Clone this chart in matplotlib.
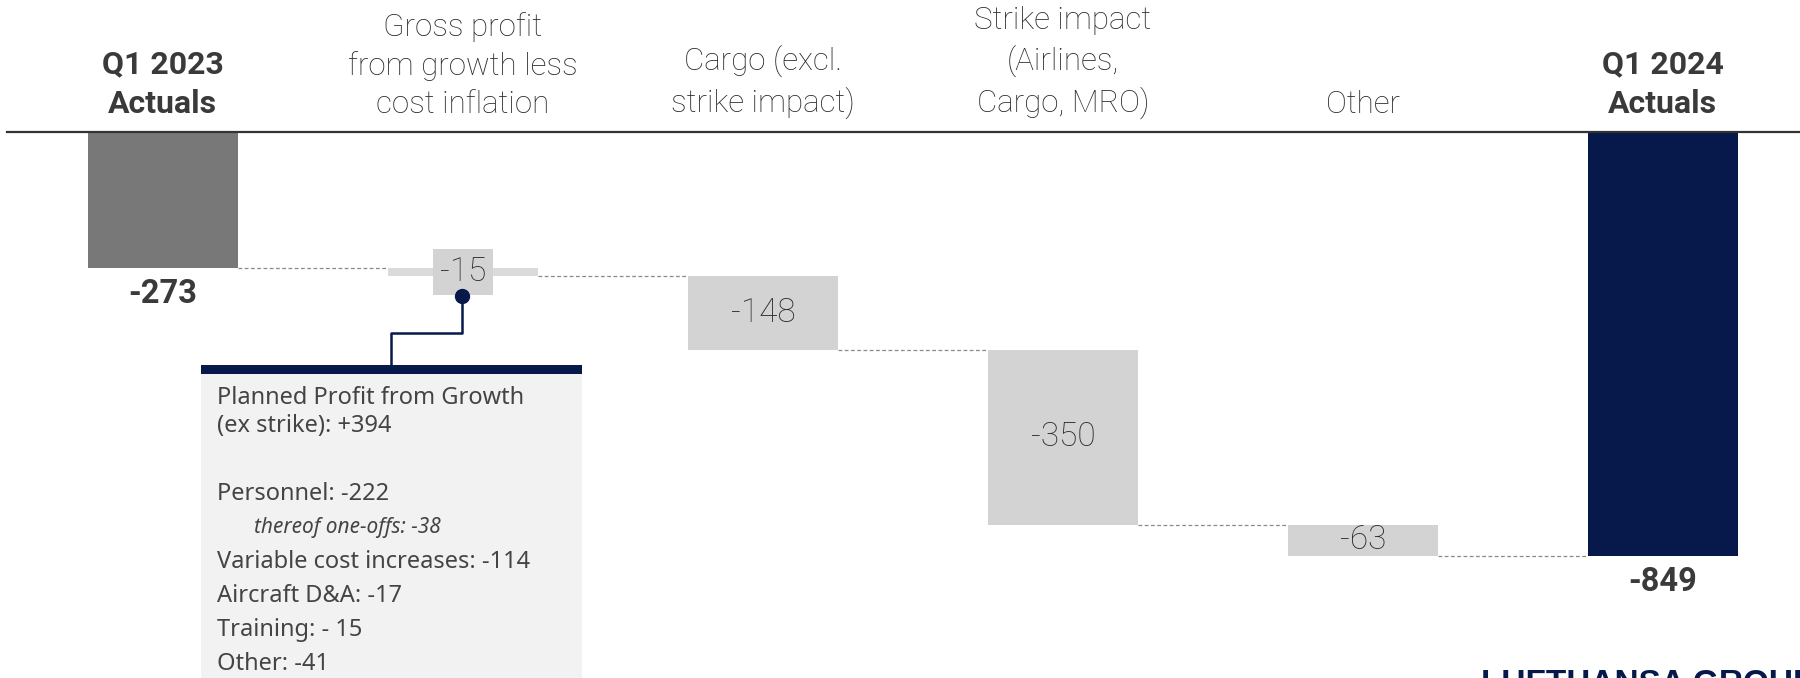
import matplotlib.pyplot as plt
from matplotlib.patches import Rectangle

# Data
categories = ['Q1 2023\nActuals',
              'Gross profit\nfrom growth less\ncost inflation',
              'Cargo (excl.\nstrike impact)',
              'Strike impact\n(Airlines,\nCargo, MRO)',
              'Other',
              'Q1 2024\nActuals']
start_value = -273
deltas = [-15, -148, -350, -63]
end_value = -849

box_lines = ['Planned Profit from Growth', '(ex strike): +394', '',
             'Personnel: -222', 'thereof one-offs: -38',
             'Variable cost increases: -114', 'Aircraft D&A: -17',
             'Training: - 15', 'Other: -41']

navy = '#07194b'
txt = '#2a2a2a'
plt.rcParams['font.family'] = ['Roboto', 'DejaVu Sans']

fig = plt.figure(figsize=(18, 6.78), dpi=100)
ax = fig.add_axes([0, 0, 1, 1])
ax.set_xlim(-0.543, 5.457)
ax.set_ylim(-1093, 264)
ax.axis('off')

w = 0.5
# start bar
ax.bar(0, start_value, width=w, color='#787878', zorder=2)
ax.text(0, start_value - 19, f'{start_value}', ha='center', va='top',
        fontsize=23.5, fontweight='bold', color='#3a3a3a')

level = start_value
for i, d in enumerate(deltas, start=1):
    ax.plot([i - 1 + w / 2, i - w / 2], [level, level], color='#8a8a8a',
            lw=0.9, ls=(0, (3, 2)), zorder=1)
    col = '#dadada' if abs(d) < 30 else '#d3d3d3'
    ax.bar(i, d, bottom=level, width=w, color=col, zorder=2)
    bbox = dict(boxstyle='square,pad=0.2', fc='#d3d3d3', ec='none') if abs(d) < 30 else None
    ax.text(i, level + d / 2, f'{d}', ha='center', va='center', fontsize=24,
            fontweight='light', color=txt, bbox=bbox, zorder=3)
    level += d

n = len(categories) - 1
ax.plot([n - 1 + w / 2, n - w / 2], [level, level], color='#8a8a8a',
        lw=0.9, ls=(0, (3, 2)), zorder=1)
ax.bar(n, end_value, width=w, color=navy, zorder=2)
ax.text(n, end_value - 19, f'{end_value}', ha='center', va='top',
        fontsize=23.5, fontweight='bold', color='#3a3a3a')

# category headers
for i, c in enumerate(categories):
    bold = 'Actuals' in c
    ax.text(i, 26, c, ha='center', va='bottom', linespacing=1.38,
            fontsize=23 if bold else 22.5,
            fontweight='bold' if bold else 'light',
            color='#3a3a3a' if bold else txt)

ax.axhline(0, xmin=0.004, xmax=1, color='#333333', lw=1.6, zorder=4)

# overlay in pixel coords for callout box
ov = fig.add_axes([0, 0, 1, 1])
ov.set_xlim(0, 1800)
ov.set_ylim(678, 0)
ov.axis('off')
ov.patch.set_alpha(0)

ov.add_patch(Rectangle((201, 374), 381, 310, fc='#f2f2f2', ec='none'))
ov.add_patch(Rectangle((201, 365), 381, 9, fc=navy, ec='none'))
ov.plot([462, 462, 391, 391], [296, 333, 333, 365], color=navy, lw=1.8)
ov.plot(462, 296, 'o', ms=10, color=navy)

y = 398
for j, line in enumerate(box_lines):
    if line.startswith('thereof'):
        ov.text(254, y, line, fontsize=15, style='italic', color='#444444',
                va='center', family=['Noto Sans', 'DejaVu Sans'], fontweight='light')
    elif line:
        ov.text(217, y, line, fontsize=17, color='#444444', va='center',
                family=['Noto Sans', 'DejaVu Sans'], fontweight='light')
    y += 28 if j < 1 else (34 if line or j > 2 else 34)

ov.text(1481, 669, 'LUFTHANSA GROUP', ha='left', va='top', fontsize=24,
        fontweight='bold', color=navy, family=['Liberation Sans', 'DejaVu Sans'])

plt.savefig('out.png', dpi=100)
